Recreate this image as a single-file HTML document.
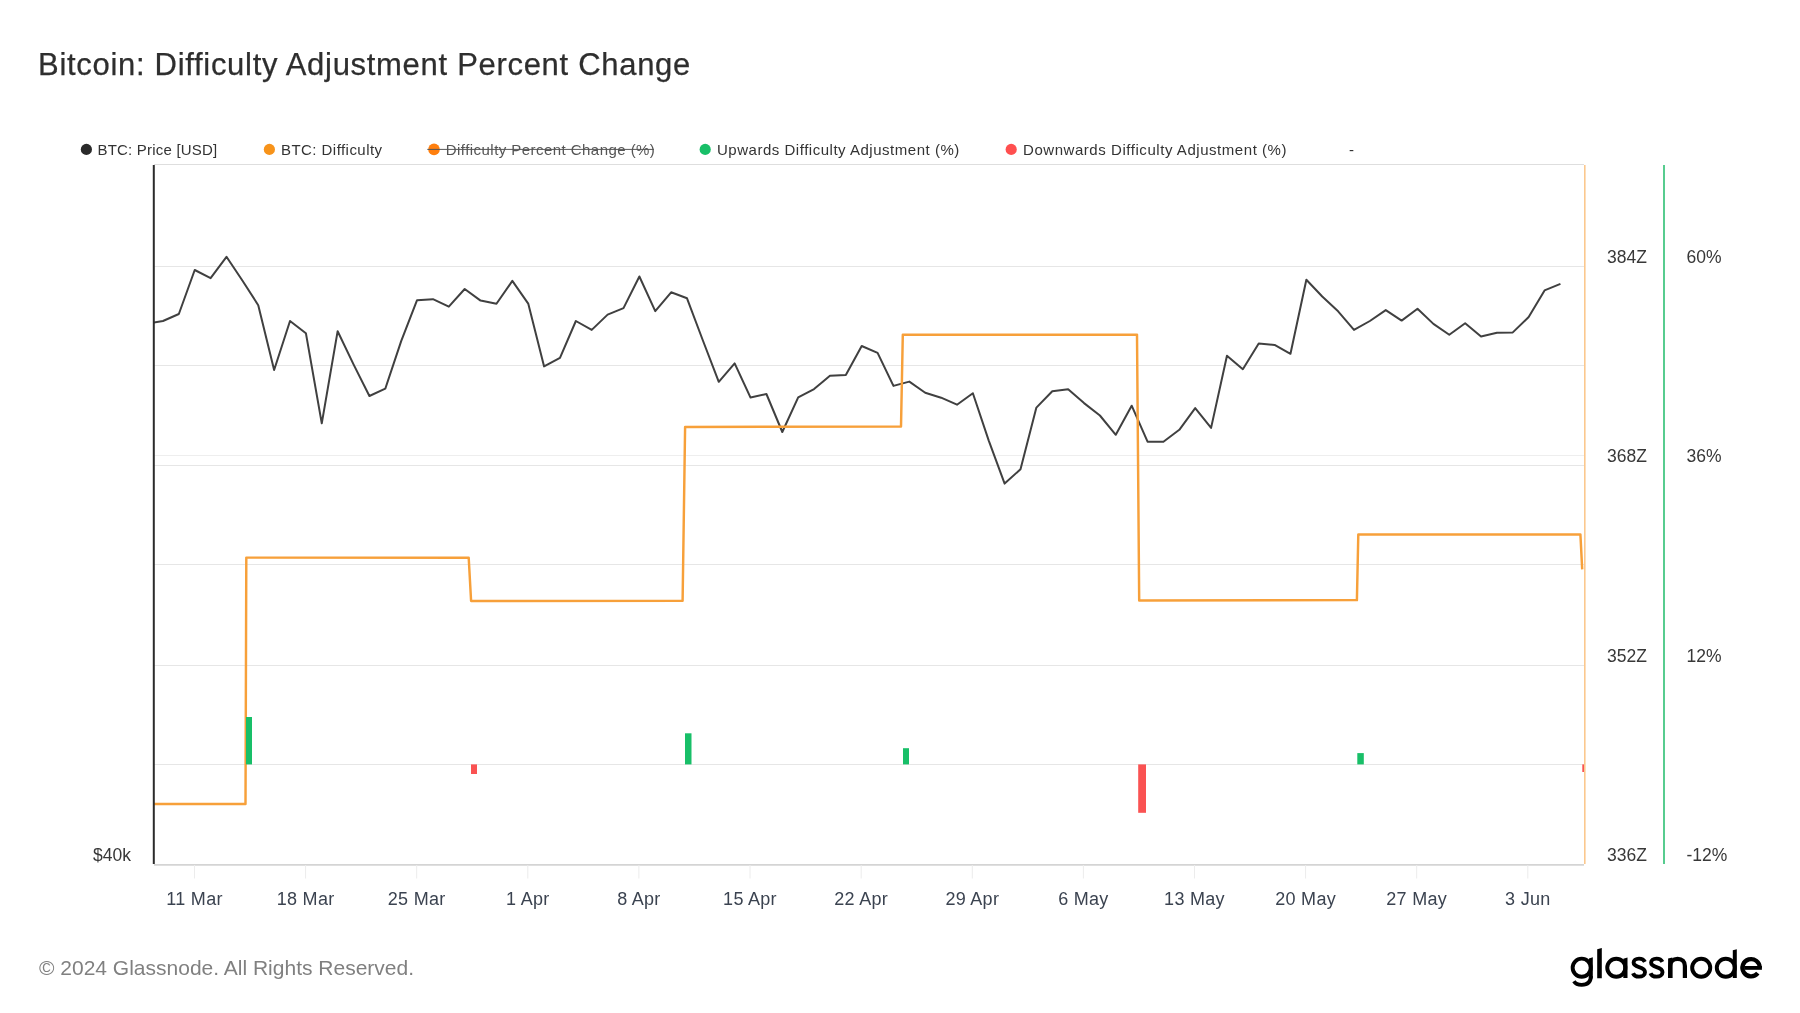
<!DOCTYPE html>
<html><head><meta charset="utf-8"><style>
html,body{margin:0;padding:0;background:#fff;}
.title,.foot,svg{will-change:transform;}
body{width:1800px;height:1013px;overflow:hidden;position:relative;font-family:"Liberation Sans",sans-serif;}
.title{position:absolute;left:38.3px;top:44.5px;font-size:31px;letter-spacing:0.7px;color:#2e2e2e;-webkit-text-stroke:0.25px #2e2e2e;white-space:nowrap;line-height:40px;}
.foot{position:absolute;left:38.5px;top:954px;font-size:21px;letter-spacing:0px;color:#808080;white-space:nowrap;line-height:28px;}
.logo{position:absolute;left:1568px;top:941px;font-size:40px;color:#000;white-space:nowrap;line-height:50px;letter-spacing:1.3px;-webkit-text-stroke:0.9px #000;}
svg{position:absolute;left:0;top:0;}
.lg{font-size:15px;fill:#333;letter-spacing:0.45px;}
.xl{font-size:18px;fill:#3b4350;letter-spacing:0.3px;}
.rl{font-size:17.5px;fill:#383838;}
</style></head><body>
<div class="title">Bitcoin: Difficulty Adjustment Percent Change</div>
<svg width="1800" height="1013" viewBox="0 0 1800 1013" font-family="Liberation Sans, sans-serif">
<defs><clipPath id="plot"><rect x="154" y="164" width="1430" height="700"/></clipPath></defs>
<!-- legend -->
<circle cx="86.4" cy="149.4" r="5.6" fill="#2a2a2a"/>
<text x="97.5" y="154.6" class="lg" style="letter-spacing:0.2px">BTC: Price [USD]</text>
<circle cx="269.4" cy="149.4" r="5.6" fill="#f7931a"/>
<text x="281" y="154.6" class="lg">BTC: Difficulty</text>
<circle cx="434" cy="149.4" r="5.8" fill="#ff7f0e"/>
<text x="445.8" y="154.6" class="lg" style="fill:#555">Difficulty Percent Change (%)</text>
<line x1="427.3" y1="149.4" x2="654" y2="149.4" stroke="#555" stroke-width="1"/>
<circle cx="705.2" cy="149.4" r="5.6" fill="#18bf68"/>
<text x="717" y="154.6" class="lg" style="letter-spacing:0.52px">Upwards Difficulty Adjustment (%)</text>
<circle cx="1011.2" cy="149.4" r="5.6" fill="#ff4f4f"/>
<text x="1023" y="154.6" class="lg" style="letter-spacing:0.55px">Downwards Difficulty Adjustment (%)</text>
<text x="1349" y="154.6" class="lg">-</text>
<!-- grid -->
<line x1="154" y1="164.5" x2="1584" y2="164.5" stroke="#dedede" stroke-width="1"/>
<line x1="154" y1="266.5" x2="1584" y2="266.5" stroke="#e6e6e6" stroke-width="1"/><line x1="154" y1="365.5" x2="1584" y2="365.5" stroke="#e6e6e6" stroke-width="1"/><line x1="154" y1="465.5" x2="1584" y2="465.5" stroke="#e6e6e6" stroke-width="1"/><line x1="154" y1="564.5" x2="1584" y2="564.5" stroke="#e6e6e6" stroke-width="1"/><line x1="154" y1="665.5" x2="1584" y2="665.5" stroke="#e6e6e6" stroke-width="1"/><line x1="154" y1="764.5" x2="1584" y2="764.5" stroke="#e6e6e6" stroke-width="1"/><line x1="154" y1="455.5" x2="1584" y2="455.5" stroke="#eeeeee" stroke-width="1"/>
<line x1="154" y1="864.9" x2="1584" y2="864.9" stroke="#d4d4d4" stroke-width="1.6"/>
<line x1="194.5" y1="865" x2="194.5" y2="878.5" stroke="#ececec" stroke-width="1"/><text x="194.5" y="905" text-anchor="middle" class="xl">11 Mar</text><line x1="305.6" y1="865" x2="305.6" y2="878.5" stroke="#ececec" stroke-width="1"/><text x="305.6" y="905" text-anchor="middle" class="xl">18 Mar</text><line x1="416.7" y1="865" x2="416.7" y2="878.5" stroke="#ececec" stroke-width="1"/><text x="416.7" y="905" text-anchor="middle" class="xl">25 Mar</text><line x1="527.8" y1="865" x2="527.8" y2="878.5" stroke="#ececec" stroke-width="1"/><text x="527.8" y="905" text-anchor="middle" class="xl">1 Apr</text><line x1="638.9" y1="865" x2="638.9" y2="878.5" stroke="#ececec" stroke-width="1"/><text x="638.9" y="905" text-anchor="middle" class="xl">8 Apr</text><line x1="750.0" y1="865" x2="750.0" y2="878.5" stroke="#ececec" stroke-width="1"/><text x="750.0" y="905" text-anchor="middle" class="xl">15 Apr</text><line x1="861.2" y1="865" x2="861.2" y2="878.5" stroke="#ececec" stroke-width="1"/><text x="861.2" y="905" text-anchor="middle" class="xl">22 Apr</text><line x1="972.3" y1="865" x2="972.3" y2="878.5" stroke="#ececec" stroke-width="1"/><text x="972.3" y="905" text-anchor="middle" class="xl">29 Apr</text><line x1="1083.4" y1="865" x2="1083.4" y2="878.5" stroke="#ececec" stroke-width="1"/><text x="1083.4" y="905" text-anchor="middle" class="xl">6 May</text><line x1="1194.5" y1="865" x2="1194.5" y2="878.5" stroke="#ececec" stroke-width="1"/><text x="1194.5" y="905" text-anchor="middle" class="xl">13 May</text><line x1="1305.6" y1="865" x2="1305.6" y2="878.5" stroke="#ececec" stroke-width="1"/><text x="1305.6" y="905" text-anchor="middle" class="xl">20 May</text><line x1="1416.7" y1="865" x2="1416.7" y2="878.5" stroke="#ececec" stroke-width="1"/><text x="1416.7" y="905" text-anchor="middle" class="xl">27 May</text><line x1="1527.8" y1="865" x2="1527.8" y2="878.5" stroke="#ececec" stroke-width="1"/><text x="1527.8" y="905" text-anchor="middle" class="xl">3 Jun</text>
<!-- series -->
<g clip-path="url(#plot)">
<polyline points="147.09,323.5 162.97,321.0 178.85,314.0 194.73,270.0 210.61,278.1 226.49,256.8 242.37,280.5 258.25,305.2 274.13,370.0 290.01,321.0 305.89,333.2 321.77,423.3 337.65,331.2 353.53,364.4 369.41,396.0 385.29,388.7 401.18,341.1 417.06,300.2 432.94,299.2 448.82,306.7 464.70,289.0 480.58,300.6 496.46,303.8 512.34,280.9 528.22,303.6 544.10,366.4 559.98,357.9 575.86,321.0 591.74,329.9 607.62,314.6 623.50,308.1 639.38,276.5 655.26,311.1 671.14,292.3 687.02,298.3 702.90,340.5 718.78,381.8 734.66,363.4 750.54,397.6 766.42,394.0 782.30,432.0 798.19,397.4 814.07,389.1 829.95,375.7 845.83,374.9 861.71,346.0 877.59,352.9 893.47,385.9 909.35,381.6 925.23,392.8 941.11,397.7 956.99,404.7 972.87,393.2 988.75,440.6 1004.63,483.6 1020.51,469.2 1036.39,407.6 1052.27,391.2 1068.15,389.3 1084.03,403.1 1099.91,415.5 1115.79,434.8 1131.67,405.7 1147.55,441.7 1163.43,441.7 1179.31,429.8 1195.20,408.1 1211.08,427.9 1226.96,355.8 1242.84,369.2 1258.72,343.5 1274.60,344.9 1290.48,353.8 1306.36,279.7 1322.24,296.5 1338.12,311.3 1354.00,329.9 1369.88,321.0 1385.76,310.1 1401.64,320.6 1417.52,308.7 1433.40,323.9 1449.28,334.8 1465.16,323.3 1481.04,336.4 1496.92,332.8 1512.80,332.4 1528.68,317.0 1544.56,290.4 1560.44,283.8" fill="none" stroke="#404040" stroke-width="2" stroke-linejoin="round"/>
<path d="M154,804 L245.5,804 L246.3,557.6 L468.7,557.8 L471.1,601 L682.6,600.8 L685.1,427 L901,426.5 L902.8,334.7 L1137,334.6 L1139.2,600.4 L1356.9,600.1 L1358.3,534.5 L1580.4,534.4 L1582.2,569.4" fill="none" stroke="#f7a03a" stroke-width="2.45" stroke-linejoin="round"/>
<rect x="246" y="717" width="6.0" height="47.4" fill="#18bf68"/><rect x="471" y="764.4" width="6.0" height="9.6" fill="#fa5252"/><rect x="685" y="733.3" width="6.5" height="31.1" fill="#18bf68"/><rect x="903" y="748.2" width="6.0" height="16.2" fill="#18bf68"/><rect x="1138.2" y="764.4" width="7.8" height="48.4" fill="#fa5252"/><rect x="1357.3" y="753.1" width="6.5" height="11.3" fill="#18bf68"/><rect x="1582.3" y="764.4" width="2.2" height="7.6" fill="#fa5252"/>
</g>
<!-- axes -->
<line x1="153.8" y1="165" x2="153.8" y2="864" stroke="#2b2b2b" stroke-width="2"/>
<line x1="1584.8" y1="165" x2="1584.8" y2="864" stroke="#fbc88e" stroke-width="1.6"/>
<line x1="1664" y1="165" x2="1664" y2="864" stroke="#1fbb6a" stroke-width="1.5"/>
<text x="131" y="861" text-anchor="end" class="rl">$40k</text>
<text x="1607" y="263" class="rl">384Z</text><text x="1686.5" y="263" class="rl">60%</text><text x="1607" y="462" class="rl">368Z</text><text x="1686.5" y="462" class="rl">36%</text><text x="1607" y="662" class="rl">352Z</text><text x="1686.5" y="662" class="rl">12%</text><text x="1607" y="861" class="rl">336Z</text><text x="1686.5" y="861" class="rl">-12%</text>
<g fill="#000" stroke="none">
<polygon points="1588.9,958.4 1592.8,957.2 1592.8,978.5 1588.9,978.5"/>
<polygon points="1597.2,949.2 1601.8,948 1601.8,978.2 1597.2,978.2"/>
<polygon points="1623.3,958.8 1627.5,957.6 1627.5,978.1 1623.3,978.1"/>
<polygon points="1668.1,958.6 1672.4,957.6 1672.4,978.1 1668.1,978.1"/>
<polygon points="1732.8,950.2 1736.8,949.2 1736.8,978.1 1732.8,978.1"/>
<rect x="1744.2" y="966" width="17.7" height="3.8"/>
</g>
<g fill="none" stroke="#000">
<circle cx="1581.7" cy="967.7" r="9.05" stroke-width="3.9"/>
<path d="M1590.85,976 C1590.85,982.5 1587,984.8 1581.7,984.8 C1577.8,984.8 1575.2,983.3 1573.9,981.2" stroke-width="3.8"/>
<circle cx="1616.3" cy="967.7" r="9.05" stroke-width="3.95"/>
<path d="M1644.9,961.9 C1643.8,959.6 1641.6,958.65 1639,958.65 C1635.6,958.65 1633.6,960.3 1633.6,962.6 C1633.6,965.3 1636,966.2 1639,967.1 C1642.5,968.1 1645,969 1645,972.2 C1645,975 1642.5,976.65 1639,976.65 C1636,976.65 1633.8,975.3 1633,973.2" stroke-width="3.9"/>
<path transform="translate(17.5,0)" d="M1644.9,961.9 C1643.8,959.6 1641.6,958.65 1639,958.65 C1635.6,958.65 1633.6,960.3 1633.6,962.6 C1633.6,965.3 1636,966.2 1639,967.1 C1642.5,968.1 1645,969 1645,972.2 C1645,975 1642.5,976.65 1639,976.65 C1636,976.65 1633.8,975.3 1633,973.2" stroke-width="3.9"/>
<path d="M1670.25,978.1 L1670.25,966 C1670.25,961.5 1673,958.8 1677.6,958.8 C1682.2,958.8 1684.9,961.5 1684.9,966 L1684.9,978.1" stroke-width="4.2"/>
<circle cx="1701.2" cy="967.7" r="9.03" stroke-width="3.95"/>
<circle cx="1725.8" cy="967.7" r="9.0" stroke-width="3.95"/>
<path d="M1759.75,967.9 A8.65,8.65 0 1 0 1757.8,973.2" stroke-width="4.3"/>
</g>
</svg>
<div class="foot">© 2024 Glassnode. All Rights Reserved.</div>

</body></html>
